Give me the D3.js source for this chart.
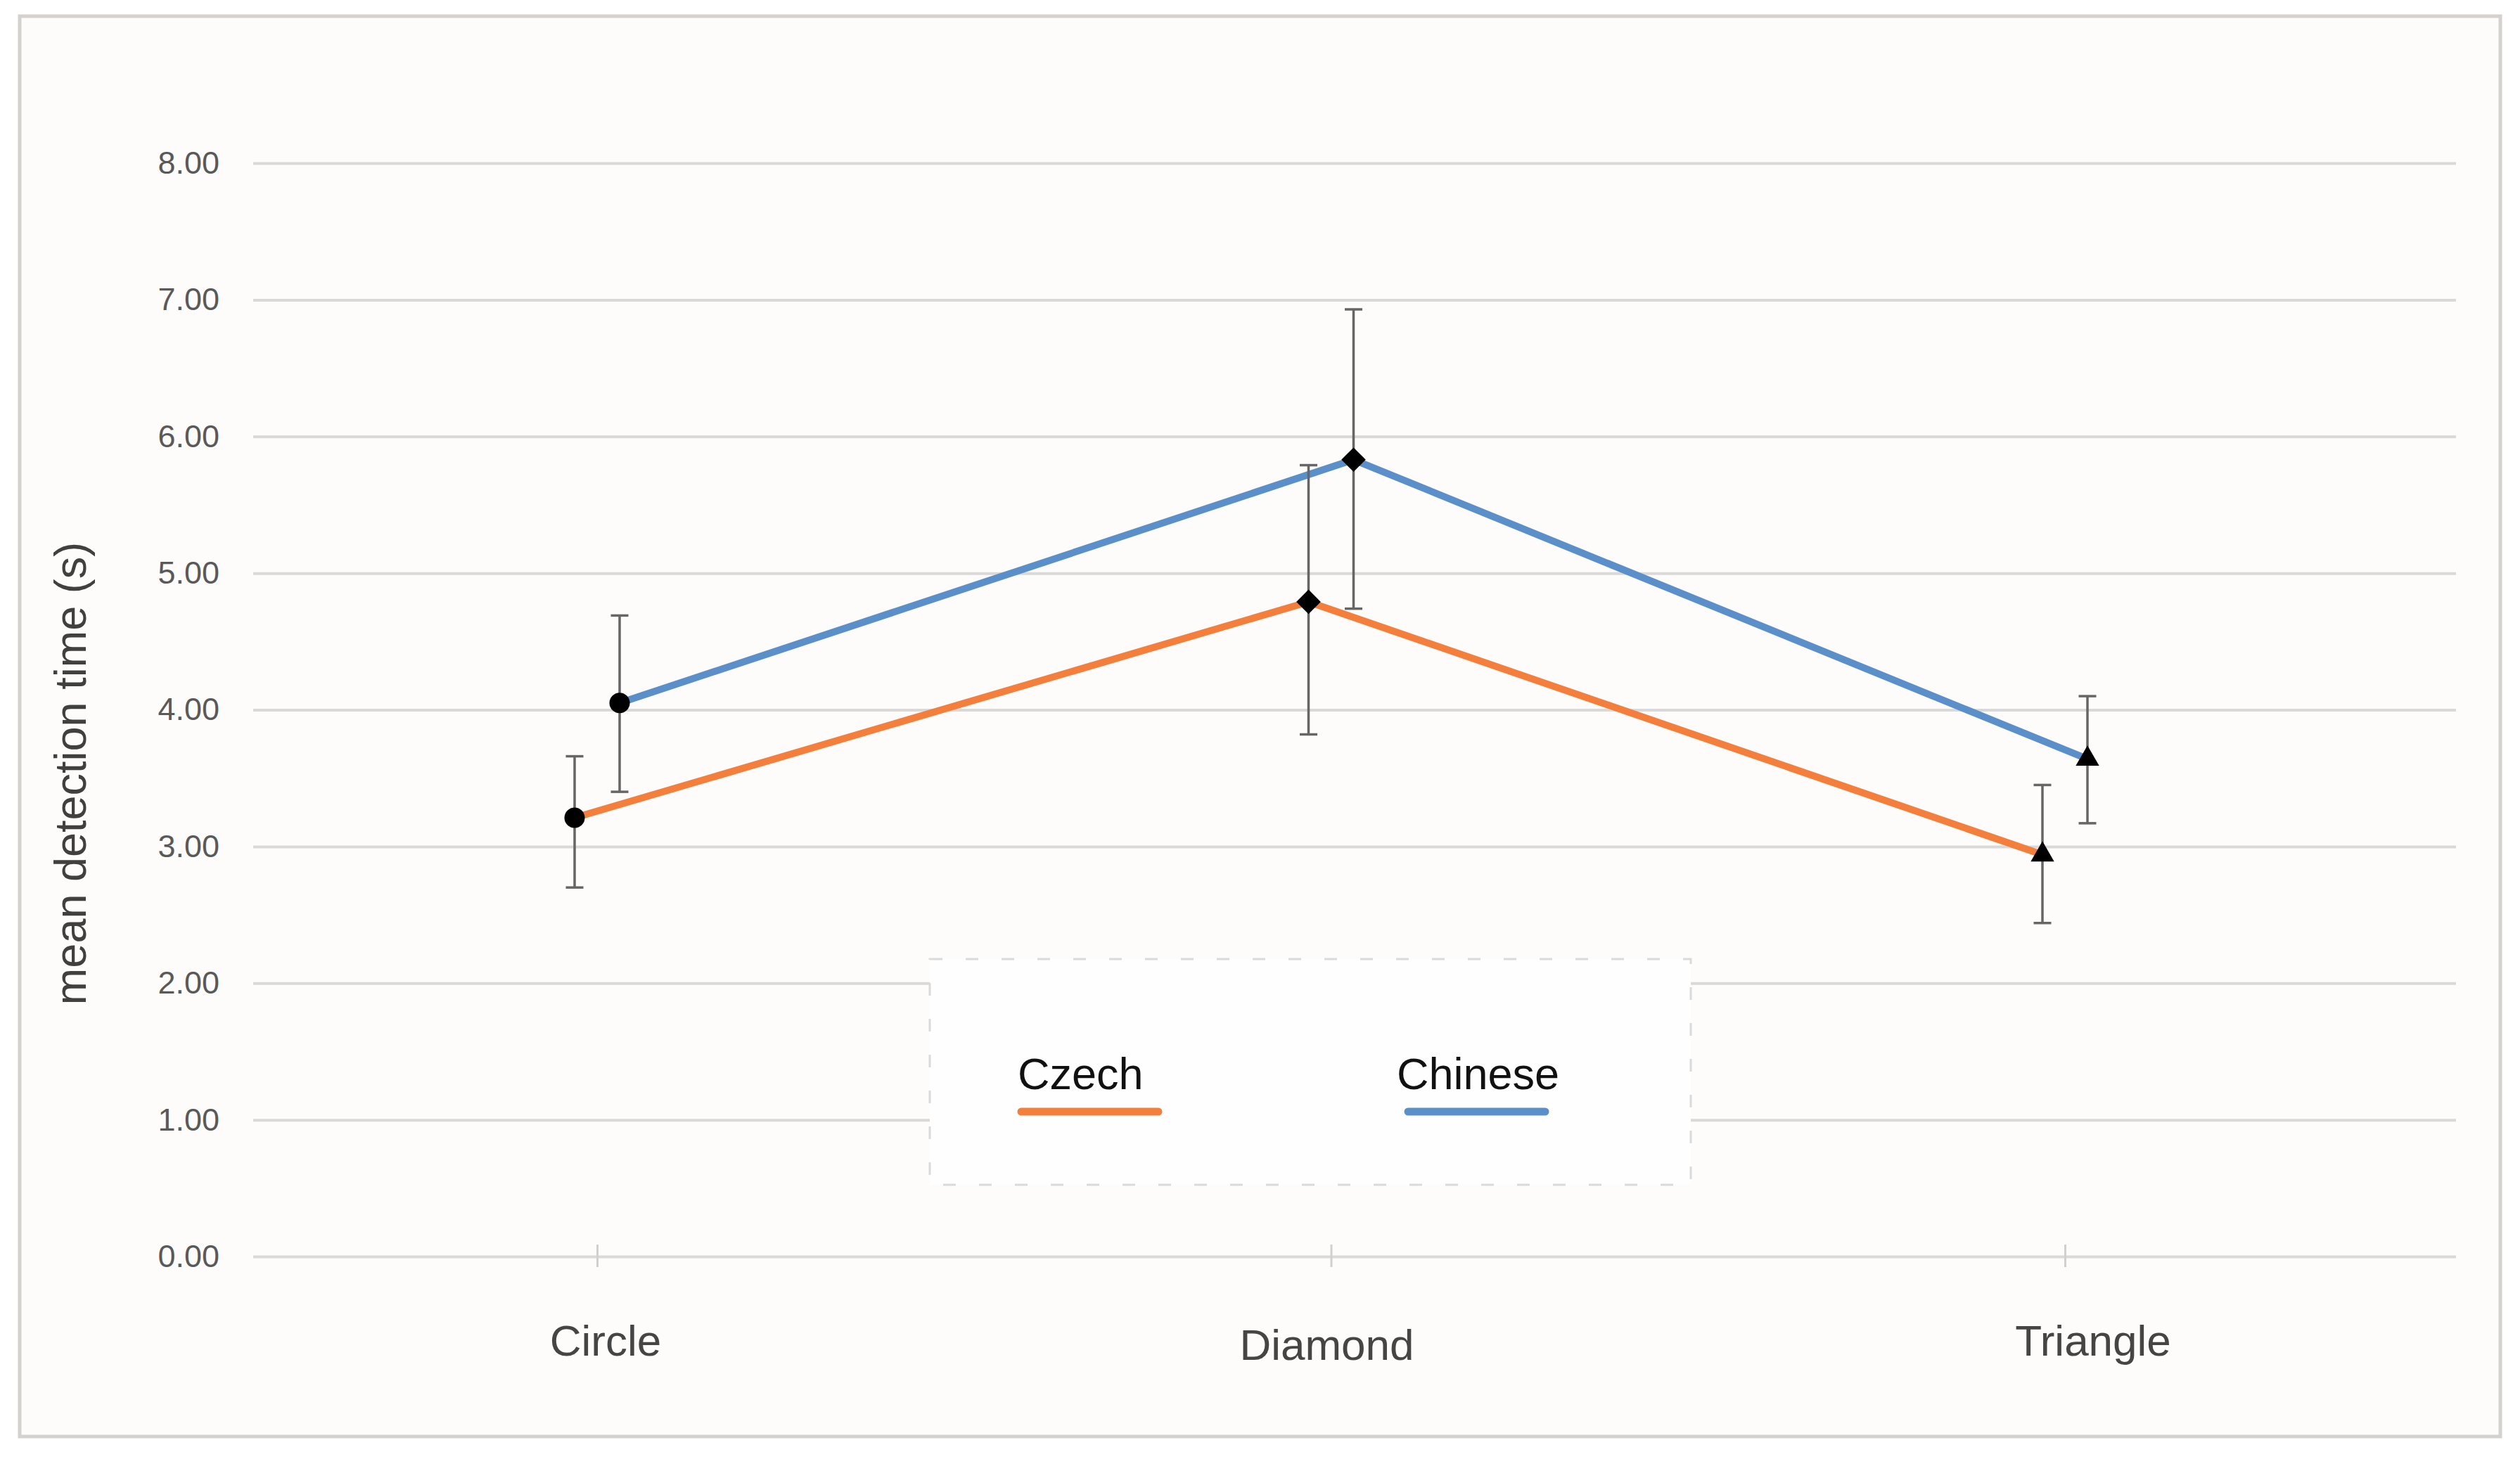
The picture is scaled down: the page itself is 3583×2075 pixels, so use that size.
<!DOCTYPE html>
<html>
<head>
<meta charset="utf-8">
<script src="https://cdn.jsdelivr.net/npm/d3@7"></script>
<style>
  body { margin: 0; background: #ffffff; }
  text { font-family: "Liberation Sans", Arial, sans-serif; }
</style>
</head>
<body>
<div id="chart"></div>
<script>
// Chart data
const categories = ["Circle", "Diamond", "Triangle"];
const seriesNames = ["Czech", "Chinese"];
const czechMean = [3.21, 4.79, 2.94];
const czechLow = [2.70, 3.82, 2.44];
const czechHigh = [3.66, 5.79, 3.45];
const chineseMean = [4.05, 5.83, 3.64];
const chineseLow = [3.40, 4.74, 3.17];
const chineseHigh = [4.69, 6.93, 4.10];
const yTicks = [0, 1, 2, 3, 4, 5, 6, 7, 8];
const seriesColors = ["#F47F3D", "#5B8FC9"];
const markerShapes = [d3.symbolCircle, d3.symbolSquare, d3.symbolTriangle];
const markerSizes = [660, 600, 480];

const width = 3583;
const height = 2075;
const plot = {left: 360, right: 3492, top: 232, bottom: 1787};

const svg = d3.select("#chart")
    .append("svg")
    .attr("width", width)
    .attr("height", height);

// Background and outer frame
svg.append("rect")
    .attr("x", 28).attr("y", 23)
    .attr("width", 3527).attr("height", 2020)
    .attr("fill", "#fdfcfb")
    .attr("stroke", "#d6d1cc")
    .attr("stroke-width", 5);

// Scales
const x = d3.scalePoint()
    .domain(categories)
    .range([849, 2936]);

const dodge = d3.scalePoint()
    .domain(seriesNames)
    .range([-32, 32]);

const y = d3.scaleLinear()
    .domain([0, 8])
    .range([plot.bottom, plot.top]);

// Gridlines + y labels
const yAxis = svg.append("g")
    .attr("transform", `translate(${plot.left},0)`)
    .call(d3.axisLeft(y)
        .tickValues(yTicks)
        .tickSize(-(plot.right - plot.left))
        .tickPadding(48)
        .tickFormat(d3.format(".2f")));

yAxis.select(".domain").remove();
yAxis.selectAll(".tick line")
    .attr("stroke", "#d9d9d9")
    .attr("stroke-width", 4);
yAxis.selectAll(".tick text")
    .attr("fill", "#595959")
    .style("font-size", "45px");

// Small x tick marks
const xAxis = svg.append("g")
    .attr("transform", `translate(0,${plot.bottom - 17})`)
    .call(d3.axisBottom(x).tickSize(32).tickFormat(""));
xAxis.select(".domain").remove();
xAxis.selectAll(".tick line")
    .attr("stroke", "#d0d0d0")
    .attr("stroke-width", 3);

// Category labels
svg.append("g")
    .selectAll("text")
    .data(categories)
    .enter()
    .append("text")
    .attr("x", (d, i) => x(d) + [12, -6, 40][i])
    .attr("y", (d, i) => [1928, 1934, 1928][i])
    .attr("text-anchor", "middle")
    .attr("fill", "#454545")
    .style("font-size", "62px")
    .text(d => d);

// Y axis title
svg.append("text")
    .attr("transform", "translate(122,1100) rotate(-90)")
    .attr("text-anchor", "middle")
    .attr("fill", "#404040")
    .style("font-size", "63px")
    .text("mean detection time (s)");

// Legend
const legend = svg.append("g").attr("transform", "translate(1322,1364)");
legend.append("rect")
    .attr("width", 1082)
    .attr("height", 321)
    .attr("fill", "#fefefe")
    .attr("stroke", "#dadada")
    .attr("stroke-width", 3)
    .attr("stroke-dasharray", "18 33");

const legendItems = legend.selectAll(".legend-item")
    .data(seriesNames)
    .enter()
    .append("g")
    .attr("class", "legend-item")
    .attr("transform", (d, i) => `translate(${[125, 664][i]},0)`);

legendItems.append("text")
    .attr("x", 0)
    .attr("y", 185)
    .attr("fill", "#111111")
    .style("font-size", "63px")
    .text(d => d);

legendItems.append("line")
    .attr("x1", (d, i) => [5, 16][i])
    .attr("x2", (d, i) => [200, 211][i])
    .attr("y1", 217)
    .attr("y2", 217)
    .attr("stroke", (d, i) => seriesColors[i])
    .attr("stroke-width", 11)
    .attr("stroke-linecap", "round");

// Build the series table
const seriesData = [
    {name: "Czech", mean: czechMean, low: czechLow, high: czechHigh},
    {name: "Chinese", mean: chineseMean, low: chineseLow, high: chineseHigh}
].map(s => ({
    name: s.name,
    points: categories.map((c, i) => ({
        category: c,
        index: i,
        mean: s.mean[i],
        low: s.low[i],
        high: s.high[i],
        px: x(c) + dodge(s.name)
    }))
}));

// Lines
const line = d3.line()
    .x(d => d.px)
    .y(d => y(d.mean));

svg.append("g")
    .selectAll("path")
    .data(seriesData)
    .enter()
    .append("path")
    .attr("d", d => line(d.points))
    .attr("fill", "none")
    .attr("stroke", (d, i) => seriesColors[i])
    .attr("stroke-width", 10)
    .attr("stroke-linejoin", "round");

// Error bars
const allPoints = seriesData.flatMap(s => s.points);
const errG = svg.append("g")
    .attr("stroke", "#666666")
    .attr("stroke-width", 3.5);

errG.selectAll(".err-v")
    .data(allPoints)
    .enter()
    .append("line")
    .attr("x1", d => d.px).attr("x2", d => d.px)
    .attr("y1", d => y(d.high)).attr("y2", d => y(d.low));

errG.selectAll(".err-top")
    .data(allPoints)
    .enter()
    .append("line")
    .attr("x1", d => d.px - 12.5).attr("x2", d => d.px + 12.5)
    .attr("y1", d => y(d.high)).attr("y2", d => y(d.high));

errG.selectAll(".err-bot")
    .data(allPoints)
    .enter()
    .append("line")
    .attr("x1", d => d.px - 12.5).attr("x2", d => d.px + 12.5)
    .attr("y1", d => y(d.low)).attr("y2", d => y(d.low));

// Markers
svg.append("g")
    .selectAll("path")
    .data(allPoints)
    .enter()
    .append("path")
    .attr("d", d => d3.symbol().type(markerShapes[d.index]).size(markerSizes[d.index])())
    .attr("transform", d => `translate(${d.px},${y(d.mean)})` + (d.index === 1 ? " rotate(45)" : ""))
    .attr("fill", "#000000");
</script>
</body>
</html>
